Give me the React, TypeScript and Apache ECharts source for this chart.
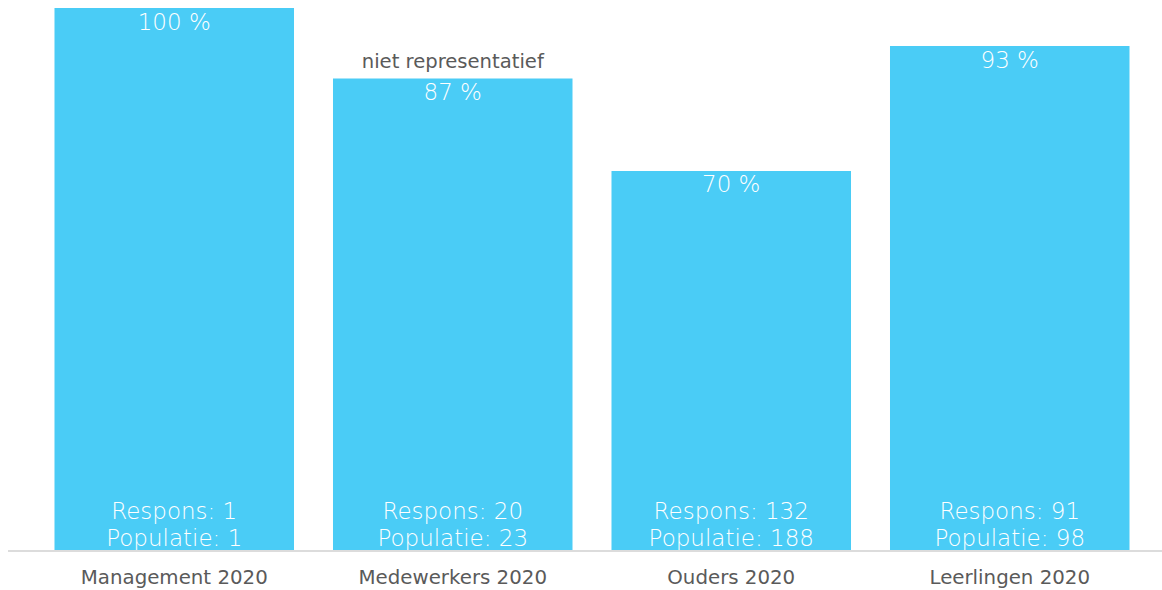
import React, { useEffect, useRef } from "react";
import * as echarts from "echarts";

const categories = ["Management 2020", "Medewerkers 2020", "Ouders 2020", "Leerlingen 2020"];
const percentages = [100, 87, 70, 93];
const respons = [1, 20, 132, 91];
const populatie = [1, 23, 188, 98];
const notes = ["", "niet representatief", "", ""];

const BAR_COLOR = "#4accf6";
const FONT = "'DejaVu Sans', 'Open Sans', sans-serif";

export default function App() {
  const ref = useRef<HTMLDivElement>(null);
  useEffect(() => {
    if (!ref.current) return;
    const chart = echarts.init(ref.current, undefined, { renderer: "svg" });
    chart.setOption({
      animation: false,
      grid: { left: 35, right: 13, top: 8, bottom: 39, containLabel: false },
      xAxis: {
        type: "category",
        data: categories,
        axisLine: { show: false },
        axisTick: { show: false },
        axisLabel: { color: "#5a5a5a", fontSize: 19.8, fontFamily: FONT, margin: 16 },
      },
      yAxis: { type: "value", min: 0, max: 100, show: false, splitLine: { show: false } },
      graphic: [
        {
          type: "line",
          shape: { x1: 8, y1: 551, x2: 1162, y2: 551 },
          style: { stroke: "#dcdcdc", lineWidth: 2 },
          z: 10,
        },
      ],
      series: [
        {
          type: "bar",
          data: percentages,
          barCategoryGap: "14%",
          itemStyle: { color: BAR_COLOR },
          label: {
            show: true,
            position: "insideTop",
            distance: 2,
            color: "#ffffff",
            fontSize: 23,
            fontFamily: FONT,
            fontWeight: 200,
            formatter: (p: any) => `${p.value} %`,
          },
        },
        {
          type: "bar",
          data: percentages,
          barGap: "-100%",
          itemStyle: { color: "transparent" },
          label: {
            show: true,
            position: "insideBottom",
            distance: 0,
            color: "#ffffff",
            fontSize: 23,
            lineHeight: 27,
            fontFamily: FONT,
            fontWeight: 200,
            formatter: (p: any) =>
              `Respons: ${respons[p.dataIndex]}\nPopulatie: ${populatie[p.dataIndex]}`,
          },
        },
        {
          type: "bar",
          data: percentages,
          barGap: "-100%",
          itemStyle: { color: "transparent" },
          label: {
            show: true,
            position: "top",
            distance: 7,
            color: "#5a5a5a",
            fontSize: 19.6,
            fontFamily: FONT,
            formatter: (p: any) => notes[p.dataIndex],
          },
        },
      ],
    });
    return () => chart.dispose();
  }, []);
  return (
    <div
      ref={ref}
      style={{ position: "absolute", left: 0, top: 0, width: 1162, height: 590 }}
    />
  );
}
